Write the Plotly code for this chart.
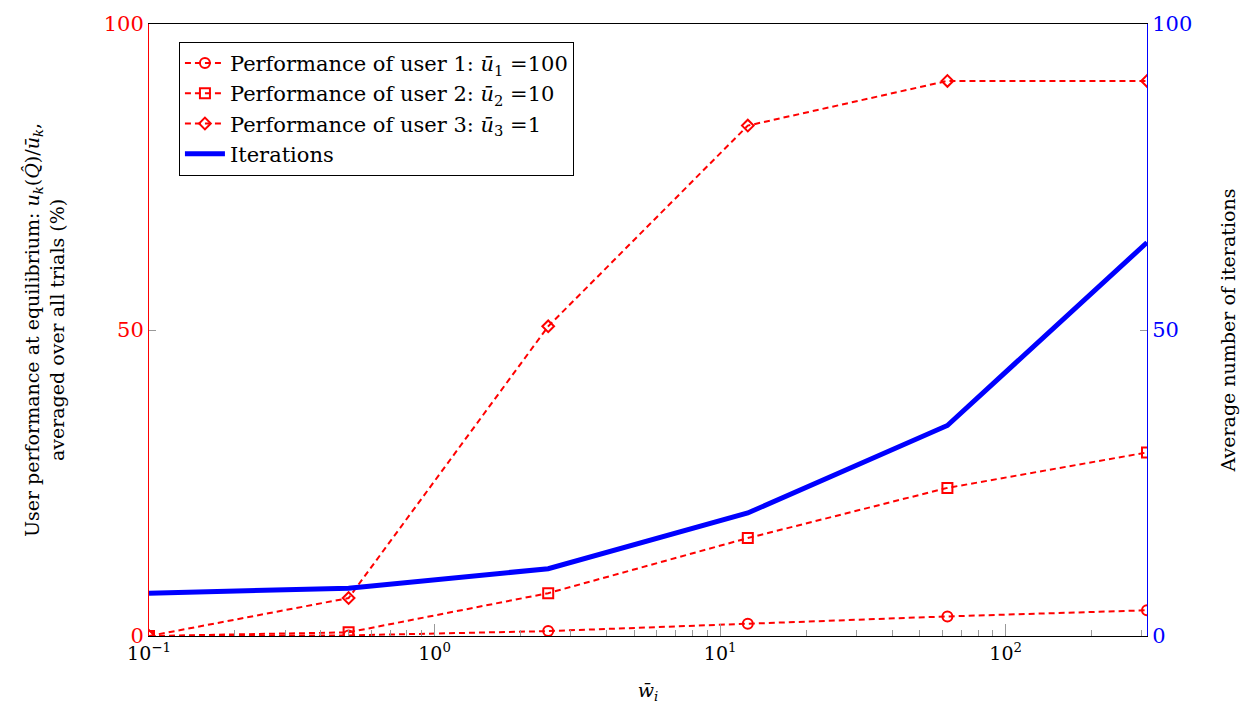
import plotly.graph_objects as go

w_bar = [0.1, 0.5, 2.5, 12.5, 62.5, 312.5]
user1 = [0.0, 0.1, 0.8, 2.0, 3.2, 4.2]
user2 = [0.0, 0.6, 7.0, 16.0, 24.2, 30.0]
user3 = [0.0, 6.2, 50.6, 83.4, 90.7, 90.7]
iterations = [7.0, 7.8, 11.0, 20.1, 34.4, 64.3]

x_tickvals = [0.1, 1, 10, 100]
x_ticktext = ["10<sup>−1</sup>", "10<sup>0</sup>", "10<sup>1</sup>", "10<sup>2</sup>"]
x_minor = [0.2, 0.3, 0.4, 0.5, 0.6, 0.7, 0.8, 0.9,
           2, 3, 4, 5, 6, 7, 8, 9,
           20, 30, 40, 50, 60, 70, 80, 90,
           200, 300]
y_tickvals = [0, 50, 100]

FONT = "DejaVu Serif"
RED = "#ff0000"
BLUE = "#0000ff"

fig = go.Figure()
fig.add_trace(go.Scatter(x=w_bar, y=user1, mode="lines+markers",
                         name="Performance of user 1: <i>ū</i><sub>1</sub> =100",
                         line=dict(color=RED, width=2, dash="6px,4px"),
                         marker=dict(symbol="circle-open", size=10, color=RED, line=dict(width=2))))
fig.add_trace(go.Scatter(x=w_bar, y=user2, mode="lines+markers",
                         name="Performance of user 2: <i>ū</i><sub>2</sub> =10",
                         line=dict(color=RED, width=2, dash="6px,4px"),
                         marker=dict(symbol="square-open", size=10, color=RED, line=dict(width=2))))
fig.add_trace(go.Scatter(x=w_bar, y=user3, mode="lines+markers",
                         name="Performance of user 3: <i>ū</i><sub>3</sub> =1",
                         line=dict(color=RED, width=2, dash="6px,4px"),
                         marker=dict(symbol="diamond-open", size=9, color=RED, line=dict(width=2))))
fig.add_trace(go.Scatter(x=w_bar, y=iterations, mode="lines", name="Iterations",
                         line=dict(color=BLUE, width=5), yaxis="y2"))

fig.update_layout(
    width=1252, height=711,
    margin=dict(l=149, r=105, t=20, b=75),
    paper_bgcolor="white", plot_bgcolor="white",
    font=dict(family=FONT, size=18, color="black"),
    showlegend=True,
    legend=dict(x=0.03, y=0.971, xanchor="left", yanchor="top",
                bgcolor="white", bordercolor="black", borderwidth=1,
                font=dict(family=FONT, size=21), tracegroupgap=0,
                itemwidth=40),
    xaxis=dict(type="log", range=[-1, 2.49485], showgrid=False, zeroline=False,
               tickvals=x_tickvals, ticktext=x_ticktext,
               ticks="inside", ticklen=12, tickcolor="#999999",
               minor=dict(tickvals=x_minor, ticks="inside", ticklen=6, tickcolor="#999999", showgrid=False),
               showline=True, linecolor="black", linewidth=1, mirror=True,
               tickfont=dict(family=FONT, size=19, color="black"),
               title=dict(text="<i>w̄</i><sub><i>i</i></sub>", font=dict(family=FONT, size=19), standoff=20)),
    yaxis=dict(range=[0, 100], showgrid=False, zeroline=False,
               tickvals=y_tickvals, ticks="inside", ticklen=7, tickcolor="#999999",
               showline=True, linecolor=RED, linewidth=1,
               tickfont=dict(family=FONT, size=21, color=RED),
               title=dict(text="User performance at equilibrium: <i>u<sub>k</sub></i>(<i>Q̂</i>)/<i>ū<sub>k</sub></i>,<br>averaged over all trials (%)",
                          font=dict(family=FONT, size=19), standoff=34)),
    yaxis2=dict(range=[0, 100], overlaying="y", side="right", showgrid=False, zeroline=False,
                tickvals=y_tickvals, ticks="inside", ticklen=7, tickcolor="#999999",
                showline=True, linecolor=BLUE, linewidth=1,
                tickfont=dict(family=FONT, size=21, color=BLUE),
                title=dict(text="Average number of iterations", font=dict(family=FONT, size=19), standoff=30)),
)

fig.write_html("out.html")
